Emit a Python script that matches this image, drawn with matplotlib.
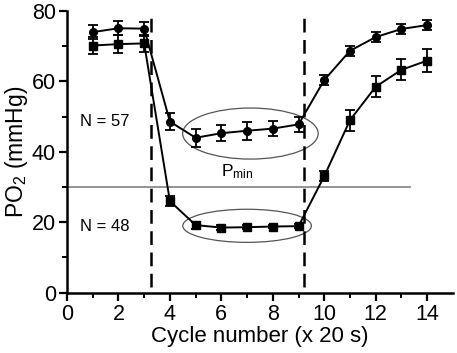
import numpy as np
import matplotlib.pyplot as plt
from matplotlib.patches import Ellipse

plt.rcParams['font.family'] = ['Liberation Sans', 'DejaVu Sans']
plt.rcParams['mathtext.fontset'] = 'custom'
plt.rcParams['mathtext.rm'] = 'Liberation Sans'

cycle = [1, 2, 3, 4, 5, 6, 7, 8, 9, 10, 11, 12, 13, 14]

# N = 57 (circles)
po2_57 = [74.0, 75.1, 75.0, 48.6, 44.0, 45.3, 46.0, 46.6, 47.8, 60.4, 68.7, 72.6, 74.9, 76.0]
err_57 = [2.0, 2.0, 2.0, 2.3, 2.5, 2.2, 2.5, 2.2, 2.2, 1.5, 1.5, 1.5, 1.5, 1.5]

# N = 48 (squares)
po2_48 = [70.2, 70.6, 70.8, 26.0, 19.2, 18.5, 18.6, 18.8, 18.9, 33.1, 49.0, 58.5, 63.3, 65.9]
err_48 = [2.5, 2.5, 2.5, 1.5, 1.0, 0.8, 0.5, 0.5, 0.5, 1.5, 3.0, 3.0, 3.0, 3.2]

p_min = 30
dash_x = [3.28, 9.2]

fig = plt.figure(figsize=(4.57, 3.53), dpi=100)
ax = fig.add_axes([0.1466, 0.1708, 0.8444, 0.798])

ax.errorbar(cycle, po2_57, yerr=err_57, color='black', marker='o', markersize=5.5,
            lw=1.4, elinewidth=1.3, capsize=3.5, capthick=1.3, zorder=3)
ax.errorbar(cycle, po2_48, yerr=err_48, color='black', marker='s', markersize=5.5,
            lw=1.4, elinewidth=1.3, capsize=3.5, capthick=1.3, zorder=3)

for xv in dash_x:
    ax.plot([xv, xv], [1.5, 78.5], color='black', lw=1.8, ls=(0, (5.5, 3)), zorder=2)

ax.plot([0, 13.35], [p_min, p_min], color='#808080', lw=1.2, zorder=1)

ax.add_patch(Ellipse((7.13, 45.2), 5.27, 14.5, fill=False, edgecolor='#555555', lw=0.9))
ax.add_patch(Ellipse((7.0, 19.0), 5.0, 9.4, fill=False, edgecolor='#555555', lw=0.9))

ax.text(0.5, 48.5, 'N = 57', fontsize=12, va='center')
ax.text(0.5, 18.8, 'N = 48', fontsize=12, va='center')
ax.text(6.0, 34.5, r'$\mathregular{P_{min}}$', fontsize=12.5, va='center')

ax.set_xlim(0, 15)
ax.set_ylim(0, 80)
ax.set_xticks([0, 2, 4, 6, 8, 10, 12, 14])
ax.set_xticks(np.arange(1, 15, 2), minor=True)
ax.set_yticks([0, 20, 40, 60, 80])
ax.set_yticks([10, 30, 50, 70], minor=True)

for s in ['top', 'right']:
    ax.spines[s].set_visible(False)
for s in ['left', 'bottom']:
    ax.spines[s].set_linewidth(1.8)

ax.tick_params(which='major', direction='out', length=6, width=1.6, labelsize=15.5, pad=2)
ax.tick_params(which='minor', direction='out', length=3.5, width=1.4)

ax.set_xlabel('Cycle number (x 20 s)', fontsize=16, labelpad=1)
ax.set_ylabel(r'PO$_2$ (mmHg)', fontsize=16.5, labelpad=1)

fig.savefig('out.png', dpi=100)
